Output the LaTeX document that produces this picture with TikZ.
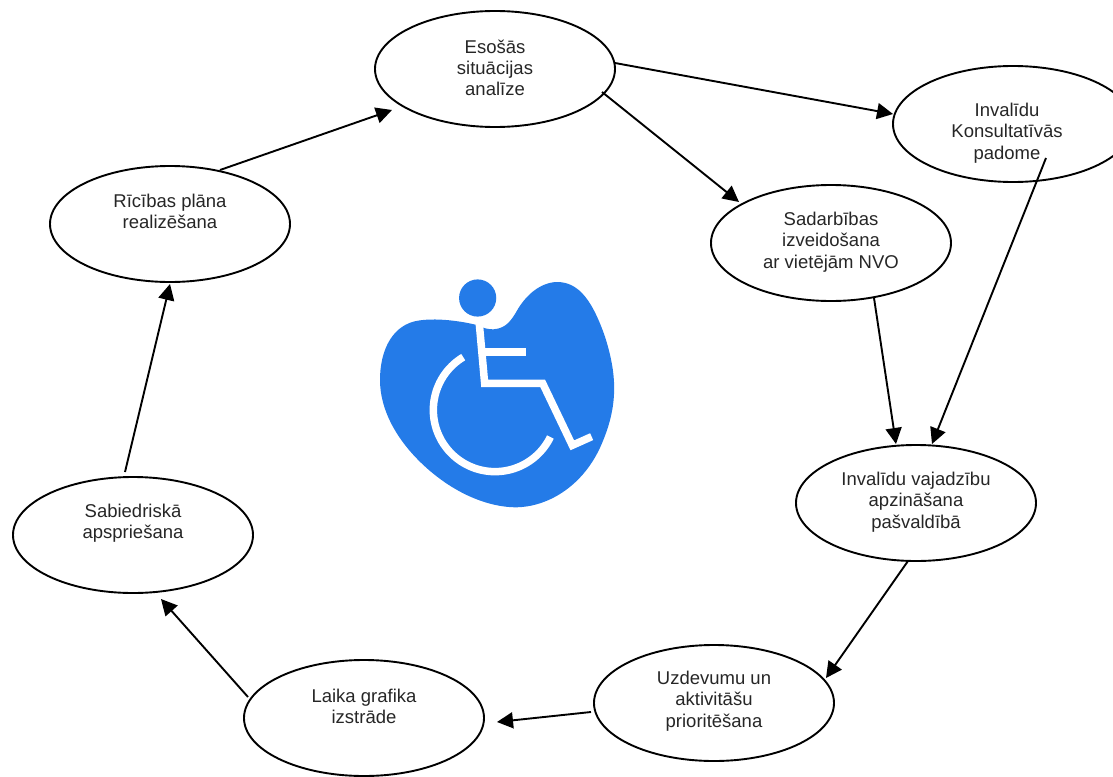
\documentclass[tikz,border=0pt]{standalone}
\usepackage{fontspec}
\setmainfont{Liberation Sans}
\usetikzlibrary{shapes.geometric,arrows.meta}
\definecolor{blobblue}{HTML}{247BE8}
\tikzset{
  oval/.style={draw=black,line width=1.9pt,ellipse,minimum width=240pt,minimum height=116pt,inner sep=0pt},
  txt/.style={align=center,inner sep=0pt,font=\fontsize{18.5}{21.3}\selectfont,text=black!85},
  arr/.style={draw=black,line width=1.9pt,-{Triangle[length=16pt,width=16pt]}},
  wh/.style={draw=white,line width=7.5pt,miter limit=10}
}
\begin{document}
\begin{tikzpicture}[x=1pt,y=-1pt]
\useasboundingbox (0,0) rectangle (1113,776);
\clip (0,0) rectangle (1113,776);
% emblem
\begin{scope}[shift={(360,260)},x=0.3333pt,y=-0.3333pt]
\fill[blobblue] (350,195) .. controls (290,180) and (210,172) .. (160,185)
 .. controls (90,205) and (60,280) .. (60,360)
 .. controls (60,450) and (110,540) .. (190,615)
 .. controls (270,690) and (370,740) .. (465,742)
 .. controls (570,742) and (680,670) .. (730,540)
 .. controls (775,430) and (770,340) .. (735,230)
 .. controls (700,130) and (660,65) .. (590,66)
 .. controls (540,68) and (500,105) .. (475,145)
 .. controls (455,180) and (440,205) .. (400,208)
 .. controls (385,208) and (370,205) .. (350,195) -- cycle;
\fill[blobblue] (353,114) circle[radius=18.6pt];
\draw[wh] (358,192) -- (374,370) -- (548,370) -- (637,556) -- (695,530);
\draw[wh] (497,276) -- (374,276);
\draw[wh] plot[domain=121:334,samples=80] ({405+185*cos(\x)},{450-185*sin(\x)});
\end{scope}
% ellipses
\node[oval,label={[txt,yshift=1pt]center:{Esošās\\situācijas\\analīze}}] (esosas) at (495,69) {};
\node[oval,label={[txt,xshift=-6pt,yshift=-9pt]center:{Invalīdu\\Konsultatīvās\\padome}}] (konsult) at (1013,124) {};
\node[oval,label={[txt,yshift=1pt]center:{Sadarbības\\izveidošana\\ar vietējām NVO}}] (sadarb) at (831,243) {};
\node[oval,label={[txt,yshift=1pt]center:{Invalīdu vajadzību\\apzināšana\\pašvaldībā}}] (vajadz) at (916,503) {};
\node[oval,label={[txt,yshift=2pt]center:{Uzdevumu un\\aktivitāšu\\prioritēšana}}] (uzdev) at (714,703) {};
\node[oval,label={[txt,yshift=11.5pt]center:{Laika grafika\\izstrāde}}] (laika) at (364,718) {};
\node[oval,label={[txt,yshift=12pt]center:{Sabiedriskā\\apspriešana}}] (sabied) at (133,535) {};
\node[oval,label={[txt,yshift=12.5pt]center:{Rīcības plāna\\realizēšana}}] (ricibas) at (170,224) {};
% connectors
\draw[arr] ([shift={(120,-6)}]esosas.center) -- ([shift={(-120,-10)}]konsult.center);
\draw[arr] ([shift={(107,23)}]esosas.center) -- ([shift={(-92,-41)}]sadarb.center);
\draw[arr] ([shift={(33,34)}]konsult.center) -- ([shift={(16,-59)}]vajadz.center);
\draw[arr] ([shift={(43,55)}]sadarb.center) -- ([shift={(-20,-59)}]vajadz.center);
\draw[arr] ([shift={(-8,58)}]vajadz.center) -- ([shift={(112,-25)}]uzdev.center);
\draw[arr] ([shift={(-123,9)}]uzdev.center) -- ([shift={(133,4)}]laika.center);
\draw[arr] ([shift={(-116,-21)}]laika.center) -- ([shift={(28,64)}]sabied.center);
\draw[arr] ([shift={(-8,-63)}]sabied.center) -- ([shift={(0,60)}]ricibas.center);
\draw[arr] ([shift={(50,-54)}]ricibas.center) -- ([shift={(-103,41)}]esosas.center);
\end{tikzpicture}
\end{document}
